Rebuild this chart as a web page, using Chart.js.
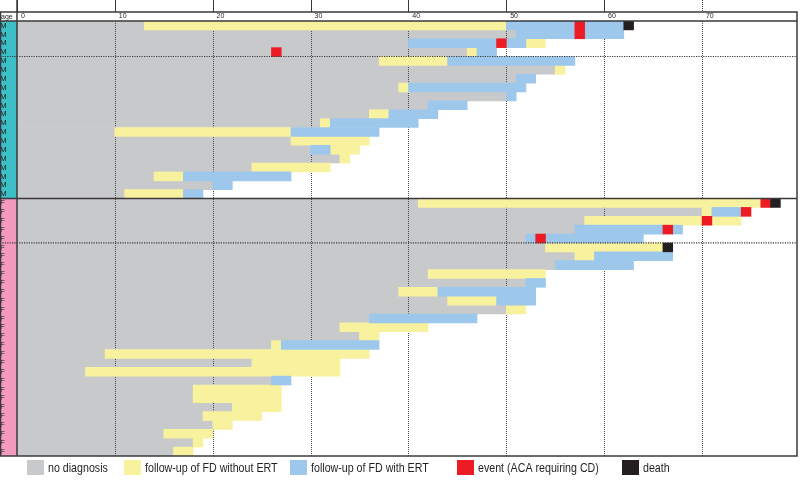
<!DOCTYPE html>
<html>
<head>
<meta charset="utf-8">
<script src="https://cdn.jsdelivr.net/npm/chart.js@4/dist/chart.umd.min.js"></script>
<style>
  html, body { margin: 0; padding: 0; background: #fff; }
</style>
</head>
<body>
<canvas id="swimChart" width="800" height="481"></canvas>
<script>
// 年齡刻度
const ageTicks = [0, 10, 20, 30, 40, 50, 60, 70];
const ageMax = 79.7;

// 每列一位病人：20 位男性、29 位女性
const sexes = [
  'M','M','M','M','M','M','M','M','M','M','M','M','M','M','M','M','M','M','M','M',
  'F','F','F','F','F','F','F','F','F','F','F','F','F','F','F','F','F','F','F','F',
  'F','F','F','F','F','F','F','F','F'
];

// 未確診：0 歲到確診年齡
const noDiagnosis = [
  13, 51, 40, 46, 37, 55, 51, 39, 50, 42, 36, 31, 10, 28, 30, 33, 24, 14, 20, 11,
  41, 70, 58, 57, 52, 54, 57, 55, 42, 52, 39, 44, 50, 36, 33, 35, 26, 9, 24, 7,
  26, 18, 18, 22, 19, 20, 15, 18, 16
];

// 追蹤期間 (無 ERT)
const withoutERT = [
  [13,50], null, [52,54], [46,47], [37,44], [55,56], null, [39,40], null, null,
  [36,38], [31,32], [10,28], [28,36], [32,35], [33,34], [24,32], [14,17], null, [11,17],
  [41,76], [70,71], [58,70], null, null, [54,66], [57,59], null, [42,54], null,
  [39,43], [44,49], [50,52], null, [33,42], [35,37], [26,27], [9,36], [24,33], [7,33],
  null, [18,27], [18,27], [22,27], [19,25], [20,22], [15,20], [18,19], [16,18]
];

// 追蹤期間 (有 ERT)
const withERT = [
  [50,57], [51,57], [40,49], [47,49], [44,57], null, [51,53], [40,52], [50,51], [42,46],
  [38,43], [32,41], [28,37], null, [30,32], null, null, [17,28], [20,22], [17,19],
  null, [71,74], null, [57,66], [52,53], null, [59,67], [55,63], null, [52,54],
  [43,53], [49,53], null, [36,47], null, null, [27,37], null, null, null,
  [26,28], null, null, null, null, null, null, null, null
];

// 事件之後的第二段：[列, 起, 迄]
const withoutERTAfter = [[22, 71, 74]];
const withERTAfter = [[0, 58, 62], [1, 58, 62], [2, 50, 52], [23, 67, 68], [24, 54, 64]];
const events = [[0,57,58], [1,57,58], [2,49,50], [3,26,27], [20,76,77], [21,74,75], [22,70,71], [23,66,67], [24,53,54]];
const deaths = [[0,62,63], [20,77,78], [25,66,67]];

const colors = {
  none: '#c8c9cb', noERT: '#f8f29e', ERT: '#9dc8eb', event: '#ed1c24', death: '#231f20',
  male: '#3cbfc7', female: '#f49ac1', line: '#3a3a3a'
};

const toRows = list => sexes.map((_, i) => {
  const hit = list.find(r => r[0] === i);
  return hit ? [hit[1], hit[2]] : null;
});

const bar = (label, data, color, order, legend) => ({
  label, data, backgroundColor: color, order, legend,
  borderWidth: 0, barPercentage: 1, categoryPercentage: 1, grouped: false
});

const datasets = [
  bar('no diagnosis', noDiagnosis.map(v => [0, v]), colors.none, 6, true),
  bar('follow-up of FD without ERT', withoutERT, colors.noERT, 5, true),
  bar('follow-up of FD without ERT', toRows(withoutERTAfter), colors.noERT, 5, false),
  bar('follow-up of FD with ERT', withERT, colors.ERT, 4, true),
  bar('follow-up of FD with ERT', toRows(withERTAfter), colors.ERT, 4, false),
  bar('event (ACA requiring CD)', toRows(events), colors.event, 2, true),
  bar('death', toRows(deaths), colors.death, 1, true)
];

// 框線、性別色帶、格線、圖例
const frame = {
  id: 'frame',
  beforeDraw(chart) {
    const {ctx, scales: {y}} = chart;
    const step = y.getPixelForValue(1) - y.getPixelForValue(0);
    const nMale = sexes.filter(s => s === 'M').length;
    ctx.save();
    ctx.fillStyle = colors.male;
    ctx.fillRect(0, y.getPixelForValue(0) - step / 2, y.right, step * nMale);
    ctx.fillStyle = colors.female;
    ctx.fillRect(0, y.getPixelForValue(nMale) - step / 2, y.right, step * (sexes.length - nMale));
    ctx.restore();
  },
  afterDatasetDraw(chart, args) {
    if (args.index !== 0) return;
    const {ctx, chartArea: a, scales: {x}} = chart;
    ctx.save();
    ctx.strokeStyle = '#4a4a4a';
    ctx.lineWidth = 1;
    ctx.setLineDash([1, 1]);
    ageTicks.slice(1).forEach(v => {
      const px = Math.round(x.getPixelForValue(v)) + 0.5;
      ctx.beginPath();
      ctx.moveTo(px, a.top);
      ctx.lineTo(px, a.bottom);
      ctx.stroke();
    });
    ctx.restore();
  },
  afterDraw(chart) {
    const {ctx, chartArea: a, scales: {x, y}} = chart;
    const step = y.getPixelForValue(1) - y.getPixelForValue(0);
    const nMale = sexes.filter(s => s === 'M').length;
    const headTop = 12;
    ctx.save();
    ctx.strokeStyle = colors.line;

    // 上方延伸刻度線
    ctx.lineWidth = 1;
    ageTicks.forEach(v => {
      const px = Math.round(x.getPixelForValue(v)) + 0.5;
      ctx.setLineDash(v === 70 ? [1, 1] : []);
      ctx.beginPath();
      ctx.moveTo(px, 0);
      ctx.lineTo(px, headTop);
      ctx.stroke();
    });

    // 家族分隔虛線
    ctx.lineWidth = 1.2;
    ctx.setLineDash([1.2, 1.2]);
    [4, nMale + 5].forEach(i => {
      const py = y.getPixelForValue(i) - step / 2;
      ctx.beginPath();
      ctx.moveTo(0, py);
      ctx.lineTo(a.right, py);
      ctx.stroke();
    });

    // 外框
    ctx.setLineDash([]);
    ctx.lineWidth = 1.5;
    const mf = y.getPixelForValue(nMale) - step / 2;
    ctx.beginPath();
    ctx.moveTo(0, mf); ctx.lineTo(a.right, mf);
    ctx.moveTo(0, a.top); ctx.lineTo(a.right, a.top);
    ctx.moveTo(a.left, 0); ctx.lineTo(a.left, a.bottom);
    ctx.stroke();
    ctx.strokeRect(0.5, headTop, a.right - 0.5, a.bottom - headTop);

    ctx.fillStyle = '#231f20';
    ctx.font = '7px "Liberation Sans", Arial, sans-serif';
    ctx.textBaseline = 'middle';
    ctx.fillText('age', 1, (headTop + a.top) / 2 + 0.5);

    // 圖例 (窄體字，用水平縮放模擬)
    const legendX = [27, 124, 290, 457, 622];
    ctx.font = '13px "Liberation Sans", Arial, sans-serif';
    chart.data.datasets.filter(d => d.legend).forEach((d, i) => {
      ctx.fillStyle = d.backgroundColor;
      ctx.fillRect(legendX[i], 460, 17, 15);
      ctx.save();
      ctx.translate(legendX[i] + 21, 468);
      ctx.scale(0.82, 1);
      ctx.fillStyle = '#231f20';
      ctx.fillText(d.label, 0, 0);
      ctx.restore();
    });
    ctx.restore();
  }
};

new Chart(document.getElementById('swimChart'), {
  type: 'bar',
  data: { labels: sexes, datasets },
  plugins: [frame],
  options: {
    indexAxis: 'y',
    responsive: false,
    animation: false,
    layout: { padding: { top: 12, right: 3, bottom: 25, left: 0 } },
    plugins: { legend: { display: false }, tooltip: { enabled: false } },
    scales: {
      x: {
        type: 'linear', position: 'top', min: 0, max: ageMax,
        afterBuildTicks: s => { s.ticks = ageTicks.map(v => ({ value: v })); },
        afterFit: s => { s.height = 9; },
        grid: { display: false, drawTicks: false },
        border: { display: false },
        ticks: {
          align: 'start', padding: 1, color: '#231f20',
          font: { size: 7, family: '"Liberation Sans", Arial, sans-serif' },
          callback: v => '  ' + v
        }
      },
      y: {
        afterFit: s => { s.width = 17; },
        grid: { display: false, drawTicks: false },
        border: { display: false },
        ticks: {
          autoSkip: false, crossAlign: 'far', padding: 0, color: '#1a1a1a',
          font: { size: 8, family: '"Liberation Sans", Arial, sans-serif' }
        }
      }
    }
  }
});
</script>
</body>
</html>
